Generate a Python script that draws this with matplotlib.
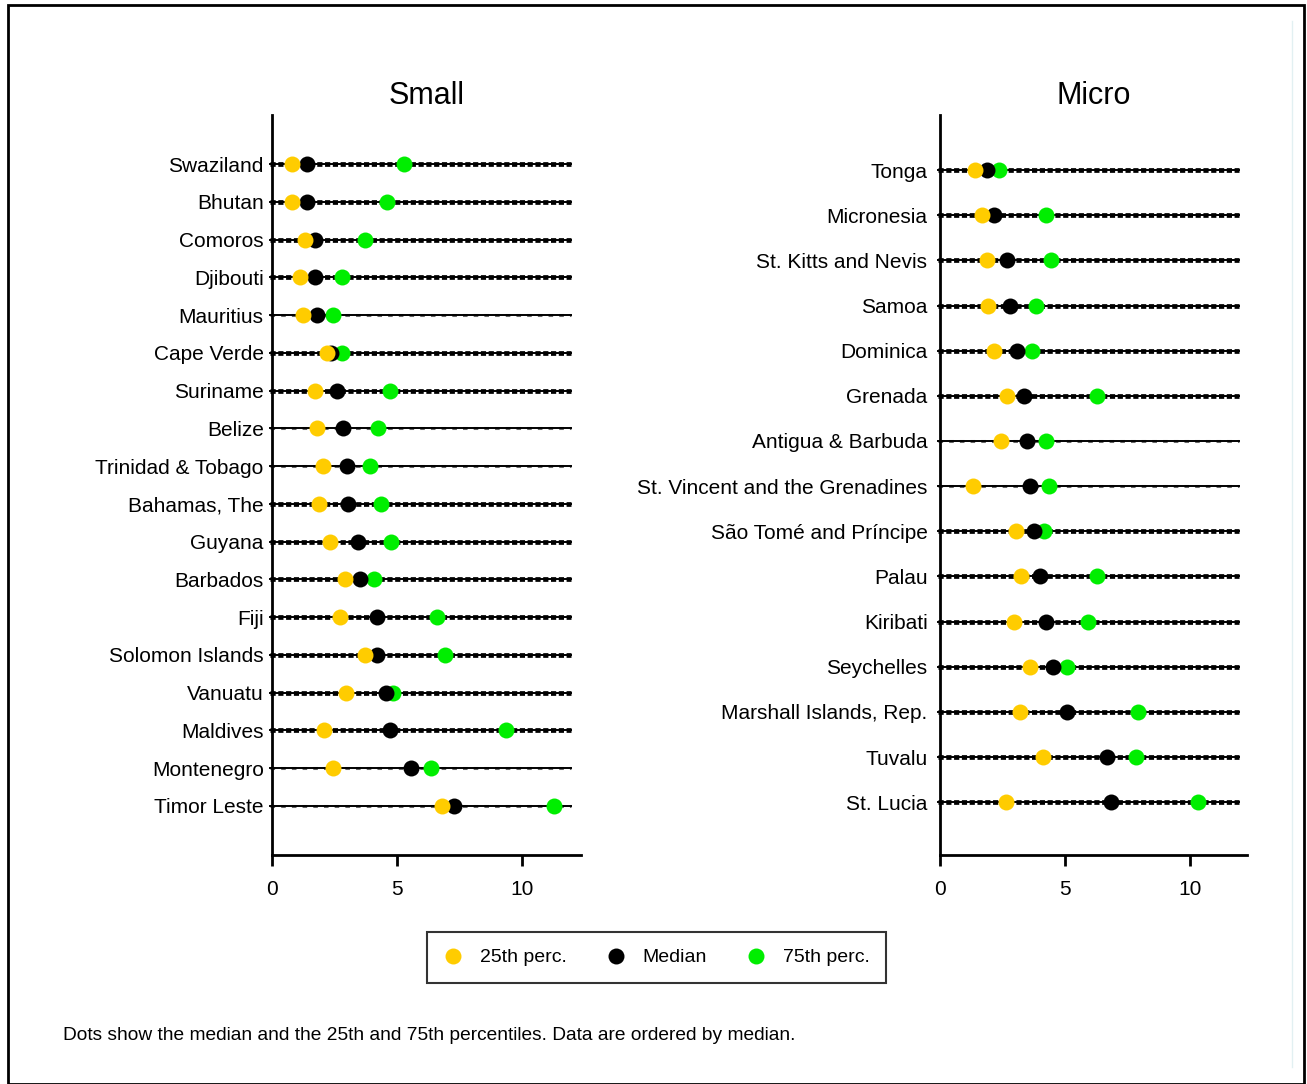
import matplotlib
matplotlib.use("Agg")
import matplotlib.pyplot as plt
from matplotlib.lines import Line2D
from matplotlib.patches import Rectangle

plt.rcParams['font.family'] = ['Liberation Sans', 'DejaVu Sans']

# Small states, ordered by median (top to bottom)
small_names = ["Swaziland", "Bhutan", "Comoros", "Djibouti", "Mauritius", "Cape Verde",
               "Suriname", "Belize", "Trinidad & Tobago", "Bahamas, The", "Guyana",
               "Barbados", "Fiji", "Solomon Islands", "Vanuatu", "Maldives",
               "Montenegro", "Timor Leste"]
small_p25 = [0.8, 0.8, 1.3, 1.1, 1.25, 2.2, 1.7, 1.8, 2.05, 1.87, 2.33, 2.9, 2.73, 3.7,
             2.94, 2.08, 2.44, 6.81]
small_med = [1.4, 1.4, 1.7, 1.7, 1.8, 2.35, 2.6, 2.85, 3.0, 3.05, 3.44, 3.53, 4.18, 4.18,
             4.54, 4.7, 5.54, 7.28]
small_p75 = [5.26, 4.6, 3.7, 2.8, 2.45, 2.8, 4.7, 4.25, 3.9, 4.35, 4.77, 4.06, 6.6, 6.9,
             4.82, 9.36, 6.35, 11.29]

# Micro states
micro_names = ["Tonga", "Micronesia", "St. Kitts and Nevis", "Samoa", "Dominica",
               "Grenada", "Antigua & Barbuda", "St. Vincent and the Grenadines",
               "São Tomé and Príncipe", "Palau", "Kiribati", "Seychelles",
               "Marshall Islands, Rep.", "Tuvalu", "St. Lucia"]
micro_p25 = [1.41, 1.68, 1.86, 1.9, 2.15, 2.69, 2.43, 1.33, 3.05, 3.24, 2.97, 3.6, 3.18,
             4.1, 2.64]
micro_med = [1.88, 2.16, 2.68, 2.78, 3.08, 3.34, 3.47, 3.6, 3.77, 3.98, 4.25, 4.52, 5.08,
             6.68, 6.84]
micro_p75 = [2.35, 4.25, 4.44, 3.85, 3.67, 6.28, 4.25, 4.35, 4.17, 6.28, 5.91, 5.09, 7.9,
             7.84, 10.33]

# rows drawn with a lighter guide line
light_rows = {"Mauritius", "Belize", "Trinidad & Tobago", "Montenegro", "Timor Leste",
              "Antigua & Barbuda", "St. Vincent and the Grenadines"}

YELLOW = "#ffcc00"
GREEN = "#00ee00"
MS = 11.5
W, H = 1307, 1084

fig = plt.figure(figsize=(W / 100, H / 100), dpi=100)


def make_panel(x0, x1, title, names, p25, med, p75, pad_rows, label_pad):
    ax = fig.add_axes([x0 / W, (H - 855) / H, (x1 - x0) / W, (855 - 115) / H])
    n = len(names)
    ys = [n - 1 - i for i in range(n)]
    for name, y in zip(names, ys):
        ax.plot([-0.1, 11.95], [y, y], color="black", lw=1.4, clip_on=False, zorder=1)
        if name in light_rows:
            ax.plot([-0.1, 11.95], [y, y], color="black", lw=2.2, clip_on=False, zorder=1,
                    dashes=(1.5, 2.0), dash_capstyle="butt", alpha=0.6)
        else:
            ax.plot([-0.1, 11.95], [y, y], color="black", lw=3.4, clip_on=False, zorder=1,
                    dashes=(1.1, 0.55), dash_capstyle="butt")
    ax.plot(p75, ys, "o", color=GREEN, ms=MS, mew=0, zorder=3)
    ax.plot(med, ys, "o", color="black", ms=MS, mew=0, zorder=4)
    ax.plot(p25, ys, "o", color=YELLOW, ms=MS, mew=0, zorder=5)

    ax.set_xlim(0, (x1 - x0) / 25.0)
    ax.set_ylim(-pad_rows[0], n - 1 + pad_rows[1])
    ax.set_yticks(ys)
    ax.set_yticklabels(names, fontsize=15)
    ax.set_xticks([0, 5, 10])
    ax.tick_params(axis="x", direction="out", length=8, width=2, labelsize=15, pad=10)
    ax.tick_params(axis="y", length=0, pad=label_pad)
    for s in ["top", "right"]:
        ax.spines[s].set_visible(False)
    for s in ["left", "bottom"]:
        ax.spines[s].set_linewidth(2)
    ax.set_title(title, fontsize=22, pad=8)
    return ax


make_panel(272, 581, "Small", small_names, small_p25, small_med, small_p75, (1.3, 1.3), 6)
make_panel(940, 1247, "Micro", micro_names, micro_p25, micro_med, micro_p75, (1.17, 1.22), 9)

handles = [
    Line2D([], [], ls="none", marker="o", color=YELLOW, ms=MS, mew=0),
    Line2D([], [], ls="none", marker="o", color="black", ms=MS, mew=0),
    Line2D([], [], ls="none", marker="o", color=GREEN, ms=MS, mew=0),
]
leg = fig.legend(handles, ["25th perc.", "Median", "75th perc."], loc="center",
                 bbox_to_anchor=(656.5 / W, 1 - 957.5 / H), ncol=3, fontsize=14,
                 frameon=True, fancybox=False, edgecolor="black", handlelength=1.0,
                 handletextpad=0.9, columnspacing=2.0, borderpad=0.85, borderaxespad=0)
leg.get_frame().set_linewidth(1.5)

fig.text(63 / W, 1 - 1035 / H,
         "Dots show the median and the 25th and 75th percentiles. Data are ordered by median.",
         fontsize=13.8, ha="left", va="center")

# outer frame
fig.add_artist(Rectangle((8 / W, 0), (1304 - 8) / W, (H - 5) / H, transform=fig.transFigure,
                         fill=False, edgecolor="black", lw=2, clip_on=False))
fig.add_artist(Line2D([1292 / W, 1292 / W], [1 - 1067 / H, 1 - 21 / H],
                      transform=fig.transFigure, color="#e2f0f2", lw=1))

fig.savefig("out.png", dpi=100)
